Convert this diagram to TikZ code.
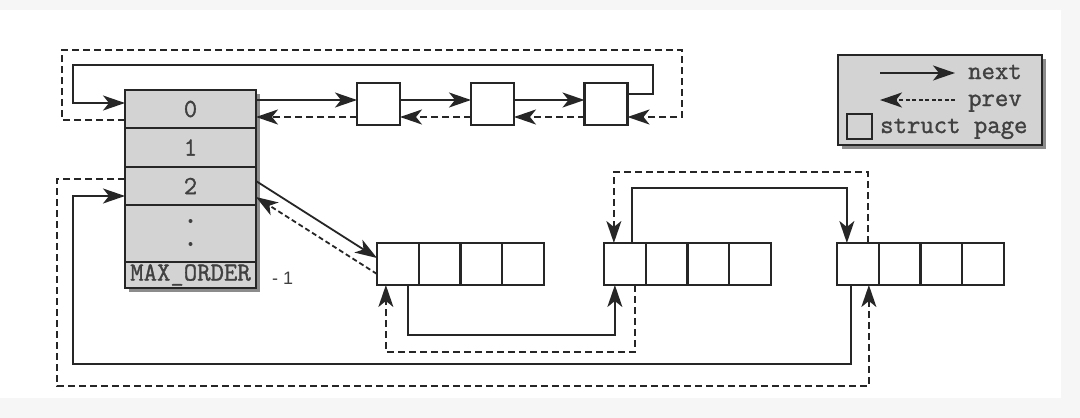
\documentclass[tikz,border=0pt]{standalone}
\usepackage{fontspec}
\setmainfont{Liberation Sans}
\newfontfamily\monof{Latin Modern Mono}[FakeBold=1.2]
\usetikzlibrary{arrows.meta,calc,positioning}
\definecolor{cellgray}{HTML}{D3D3D3}
\definecolor{shadowgray}{HTML}{8C8C8C}
\definecolor{ink}{HTML}{262626}
\definecolor{txt}{HTML}{404040}
\definecolor{bggray}{HTML}{F6F6F6}
\begin{document}
\begin{tikzpicture}[x=1pt,y=-1pt,line join=miter,
  nxt/.style={draw=ink, line width=1.8pt, -{Stealth[length=22pt,width=15pt,inset=6pt]}},
  prv/.style={nxt, dash pattern=on 7pt off 4pt},
  cell/.style={draw=ink, line width=2.2pt, fill=white, minimum width=41.75pt, minimum height=42pt, inner sep=0pt, outer sep=0pt},
  arow/.style={draw=ink, line width=2pt, fill=cellgray, minimum width=131pt, inner sep=0pt, outer sep=0pt, font=\monof\fontsize{26}{26}\selectfont, text=txt},
  legtext/.style={anchor=base west, inner sep=0pt, font=\monof\fontsize{26}{26}\selectfont, text=txt},
]
\useasboundingbox (0,0) rectangle (1080,418);
\fill[bggray] (0,0) rectangle (1080,418);
\fill[white] (0,10) rectangle (1061,398);

% free-area array
\fill[shadowgray] (129,94) rectangle (260,292);
\node[arow, minimum height=38pt] (r0) at (190.5,109) {0};
\node[arow, minimum height=39pt] (r1) at (190.5,147.5) {1};
\node[arow, minimum height=38pt] (r2) at (190.5,186) {2};
\node[arow, minimum height=57pt] (rd) at (190.5,233.5) {};
\node[arow, minimum height=26pt] (rmax) at (190.5,275) {MAX\_ORDER};
\fill[txt] (190.5,221) circle (2);
\fill[txt] (190.5,244) circle (2);
\node[anchor=west, inner sep=0pt, font=\fontsize{18}{18}\selectfont, text=txt] (m1) at (272,278) {- 1};

% top list
\node[cell, minimum width=43pt] (t1) at (378.5,104) {};
\node[cell, minimum width=43pt] (t2) at (492.5,104) {};
\node[cell, minimum width=43pt] (t3) at (606,104) {};
\draw[nxt] (r0.east |- 0,100) -- (t1.west |- 0,100);
\draw[nxt] (t1.east |- 0,100) -- (t2.west |- 0,100);
\draw[nxt] (t2.east |- 0,100) -- (t3.west |- 0,100);
\draw[prv] (t1.west |- 0,117) -- (r0.east |- 0,117);
\draw[prv] (t2.west |- 0,117) -- (t1.east |- 0,117);
\draw[prv] (t3.west |- 0,117) -- (t2.east |- 0,117);
\draw[nxt] (t3.east |- 0,94) -- (653,94) -- (653,65) -- (73,65) -- (73,103) -- (r0.west |- 0,103);
\draw[prv] (r0.west |- 0,120) -- (62,120) -- (62,50) -- (682,50) -- (682,117) -- (t3.east |- 0,117);

% blocks
\node[cell] (a1) at (397.875,264) {};
\node[cell, right=0pt of a1] (a2) {};
\node[cell, right=0pt of a2] (a3) {};
\node[cell, right=0pt of a3] (a4) {};
\node[cell] (b1) at (624.875,264) {};
\node[cell, right=0pt of b1] (b2) {};
\node[cell, right=0pt of b2] (b3) {};
\node[cell, right=0pt of b3] (b4) {};
\node[cell] (c1) at (857.875,264) {};
\node[cell, right=0pt of c1] (c2) {};
\node[cell, right=0pt of c2] (c3) {};
\node[cell, right=0pt of c3] (c4) {};

\draw[nxt] (r2.east |- 0,181) -- (a1.west |- 0,258);
\draw[prv, dash pattern=on 5pt off 3pt] (a1.west |- 0,274) -- (r2.east |- 0,197);

\draw[nxt] ([xshift=10pt]a1.south) -- ++(0,50) -| ([xshift=-10pt]b1.south);
\draw[prv] ([xshift=10pt]b1.south) -- ++(0,67) -| ([xshift=-12pt]a1.south);
\draw[nxt] ([xshift=7pt]b1.north) -- ++(0,-55) -| ([xshift=-11pt]c1.north);
\draw[prv] ([xshift=10pt]c1.north) -- ++(0,-71) -| ([xshift=-11pt]b1.north);
\draw[nxt] ([xshift=-7pt]c1.south) -- ++(0,79) -- (73,364) -- (73,196) -- (r2.west |- 0,196);
\draw[prv] (r2.west |- 0,179) -- (57,179) -- (57,386) -| ([xshift=11pt]c1.south);

% legend
\fill[shadowgray] (842,59) rectangle (1046,149);
\node[draw=ink, line width=2pt, fill=cellgray, minimum width=204pt, minimum height=90pt, inner sep=0pt] (leg) at (940,100) {};
\coordinate (ln1) at (880,73);
\coordinate (ln2) at (955,73);
\coordinate (lp1) at (955,100);
\coordinate (lp2) at (880,100);
\draw[nxt] (ln1) -- (ln2);
\draw[prv, dash pattern=on 4pt off 2.5pt] (lp1) -- (lp2);
\node[legtext] (lnext) at (968,79) {next};
\node[legtext] (lprev) at (968,106) {prev};
\node[draw=ink, line width=2pt, minimum size=25pt, inner sep=0pt] (lsq) at (859.5,126.5) {};
\node[legtext] (lstruct) at (880,133) {struct page};
\end{tikzpicture}
\end{document}
